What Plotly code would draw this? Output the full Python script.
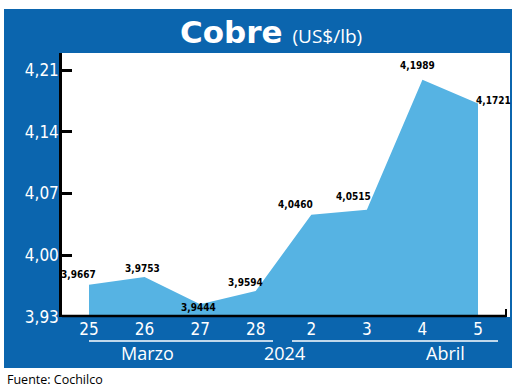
import plotly.graph_objects as go

# ---- data ----
categories = ["25", "26", "27", "28", "2", "3", "4", "5"]
prices = [3.9667, 3.9753, 3.9444, 3.9594, 4.0460, 4.0515, 4.1989, 4.1721]
y_ticks = [3.93, 4.00, 4.07, 4.14, 4.21]
month_labels = ["Marzo", "2024", "Abril"]
title_main = "Cobre"
title_unit = "(US$/lb)"
source_text = "Fuente: Cochilco"

# ---- styles ----
FRAME = "#0b65ae"
FILL = "#56b3e3"
NARROW = "Liberation Sans Narrow, DejaVu Sans Condensed, Arial Narrow, sans-serif"
SANS = "Open Sans, Noto Sans, sans-serif"

W, H = 520, 389
L, R, T, B = 62, 510, 53, 317
PW, PH = R - L, B - T


def px(x):
    return (x - L) / PW


def py(y):
    return (B - y) / PH


# y range from pixel geometry: 3.93 at y=317, 4.21 at y=70
ppu = (317 - 70) / (4.21 - 3.93)
y0 = 3.93
y1 = y0 + PH / ppu
# x range: index 0 at px 89, index 7 at px 478
step = (478 - 89) / 7
x0 = -(89 - L) / step
x1 = 7 + (R - 478) / step

xs = list(range(len(categories)))

fig = go.Figure()
fig.add_trace(go.Scatter(
    x=xs, y=prices, mode="lines", fill="tozeroy",
    fillcolor=FILL, line=dict(width=0, color=FILL), hoverinfo="skip",
))

# data label offsets (pixels) relative to each point
label_offsets = [(-11, 10), (-2, 9), (-2, -3), (-10, 9), (-16, 10), (-13, 13), (-5, 14), (15, 3)]
annotations = []
for i, (v, (dx, dy)) in enumerate(zip(prices, label_offsets)):
    annotations.append(dict(
        x=xs[i], y=v, xref="x", yref="y",
        text="<b>" + f"{v:.4f}".replace(".", ",") + "</b>",
        showarrow=False, xshift=dx, yshift=dy,
        font=dict(family=NARROW, size=10, color="black"),
        xanchor="center", yanchor="middle",
    ))

# title
annotations.append(dict(
    x=px(271), y=py(32), xref="paper", yref="paper",
    text=f"<b>{title_main}</b> <span style='font-family:Open Sans;font-size:19px;font-weight:normal'>{title_unit}</span>",
    showarrow=False, xanchor="center", yanchor="middle",
    font=dict(family="DejaVu Sans, sans-serif", size=31, color="white"),
))

# month / year labels
for txt, cx in zip(month_labels, [147, 284, 445]):
    annotations.append(dict(
        x=px(cx), y=py(353), xref="paper", yref="paper", text=txt,
        showarrow=False, xanchor="center", yanchor="middle",
        font=dict(family=SANS, size=18, color="white"),
    ))

# source
annotations.append(dict(
    x=px(5), y=py(379), xref="paper", yref="paper", text=source_text,
    showarrow=False, xanchor="left", yanchor="middle",
    font=dict(family=SANS, size=12.5, color="black"),
))

shapes = []
# blue frame bands
for (ax0, ay0, ax1, ay1) in [(4, 9, 512, T), (4, T, 61, 368), (4, B, 512, 368), (R, T, 512, 368)]:
    shapes.append(dict(type="rect", xref="paper", yref="paper",
                       x0=px(ax0), x1=px(ax1), y0=py(ay0), y1=py(ay1),
                       fillcolor=FRAME, line=dict(width=0), layer="below"))
# white separator lines under tick labels
for (lx0, lx1) in [(89, 273), (292, 498)]:
    shapes.append(dict(type="line", xref="paper", yref="paper",
                       x0=px(lx0), x1=px(lx1), y0=py(341), y1=py(341),
                       line=dict(color="white", width=1.5)))
# x axis line with end tick
shapes.append(dict(type="line", xref="paper", yref="paper",
                   x0=px(L), x1=px(506), y0=py(316), y1=py(316),
                   line=dict(color="black", width=2.5)))
shapes.append(dict(type="line", xref="paper", yref="paper",
                   x0=px(506), x1=px(506), y0=py(317), y1=py(309),
                   line=dict(color="black", width=2)))

fig.update_layout(
    width=W, height=H,
    margin=dict(l=L, r=W - R, t=T, b=H - B),
    paper_bgcolor="white", plot_bgcolor="white",
    showlegend=False, separators=",.",
    annotations=annotations, shapes=shapes,
    xaxis=dict(
        range=[x0, x1], tickmode="array", tickvals=xs, ticktext=categories,
        showgrid=False, zeroline=False, showline=False, ticks="",
        tickfont=dict(family=NARROW, size=17, color="white"),
        fixedrange=True,
    ),
    yaxis=dict(
        range=[y0, y1], tickmode="array", tickvals=y_ticks,
        ticktext=[f"{t:.2f}".replace(".", ",") for t in y_ticks],
        showgrid=False, zeroline=False, showline=True, linecolor="black", linewidth=2.5,
        ticks="inside", ticklen=10, tickwidth=2.5, tickcolor="black",
        tickfont=dict(family=NARROW, size=17, color="white"),
        ticklabelstandoff=-3,
        fixedrange=True,
    ),
)

fig.write_html(
    "out.html",
    config={"displayModeBar": False},
    post_script="document.body.style.margin='0';document.body.style.overflow='hidden';",
)
